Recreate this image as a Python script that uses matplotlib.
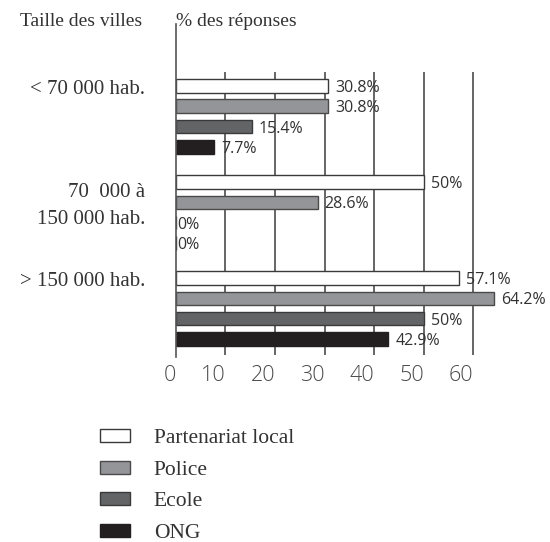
import numpy as np
import matplotlib
matplotlib.use("Agg")
import matplotlib.pyplot as plt
from matplotlib.patches import Patch

# Data
villes = ["< 70 000 hab.", "70  000 à\n150 000 hab.", "> 150 000 hab."]
series = ["Partenariat local", "Police", "Ecole", "ONG"]
partenariat = [30.8, 50.0, 57.1]
police = [30.8, 28.6, 64.2]
ecole = [15.4, 0.0, 50.0]
ong = [7.7, 0.0, 42.9]
xticks = [0, 10, 20, 30, 40, 50, 60]

values = [partenariat, police, ecole, ong]
colors = ["#ffffff", "#939598", "#636466", "#231f20"]
edges = ["#3a3a3a", "#4a4a4a", "#3a3a3a", "#231f20"]

SERIF = ["Liberation Serif", "DejaVu Serif"]
SANS = ["Open Sans", "DejaVu Sans"]

W, H = 550, 542
fig = plt.figure(figsize=(W / 100, H / 100), dpi=100)

# axes placed in pixel terms
ax_l, ax_r, ax_t, ax_b = 175.7, 503.0, 24.0, 357.0
ax = fig.add_axes([ax_l / W, 1 - ax_b / H, (ax_r - ax_l) / W, (ax_b - ax_t) / H])

group_step = 4.73   # slots between groups
bar_h = 0.665
xmax = (ax_r - ax_l) / 4.96
ax.set_xlim(0, xmax)
ax.set_ylim(13.35, -3.05)

# gridlines
ax.vlines(xticks[1:], -0.69, 13.25, color="#3c3c3c", lw=1.1, zorder=1)

for i, (vals, c, ec) in enumerate(zip(values, colors, edges)):
    ys = np.arange(len(villes)) * group_step + i
    ax.barh(ys, vals, height=bar_h, color=c, edgecolor=ec, linewidth=1.0, zorder=2)
    for y, v in zip(ys, vals):
        lab = f"{v:g}%"
        x = 0.35 if v == 0 else v + 1.4
        ax.text(x, y + 0.1, lab, va="center", ha="left", fontsize=11.5,
                family=SANS, color="#333333", zorder=3)

# category labels
label_offsets = [0.05, 0.86, 0.04]
ax.set_yticks(np.arange(len(villes)) * group_step + np.array(label_offsets))
ax.set_yticklabels(villes, family=SERIF, fontsize=15, color="#333333",
                   linespacing=1.55, multialignment="right")
ax.tick_params(axis="y", length=0, pad=22)

ax.set_xticks(xticks)
ax.set_xticklabels([str(t) for t in xticks], family=SANS, fontsize=15.5,
                   fontweight="light", color="#4a4a4a", ha="right")
ax.tick_params(axis="x", length=0, pad=6)

for s in ["top", "right", "bottom"]:
    ax.spines[s].set_visible(False)
ax.spines["left"].set_color("#555555")
ax.spines["left"].set_linewidth(1.2)
ax.set_facecolor("none")

# headers
fig.text(20 / W, 1 - 22 / H, "Taille des villes", family=SERIF, fontsize=14,
         color="#333333", va="center", ha="left")
fig.text(176 / W, 1 - 22 / H, "% des réponses", family=SERIF, fontsize=14,
         color="#333333", va="center", ha="left")

# legend
handles = [Patch(facecolor=c, edgecolor=ec, linewidth=1.0) for c, ec in zip(colors, edges)]
fig.legend(handles, series, loc="upper left", bbox_to_anchor=(100 / W, 1 - 429 / H),
           frameon=False, prop={"family": SERIF, "size": 15.5},
           handlelength=1.4, handleheight=0.55, handletextpad=1.1,
           labelspacing=0.58, borderpad=0, borderaxespad=0, labelcolor="#333333")

fig.savefig("out.png", dpi=100)
